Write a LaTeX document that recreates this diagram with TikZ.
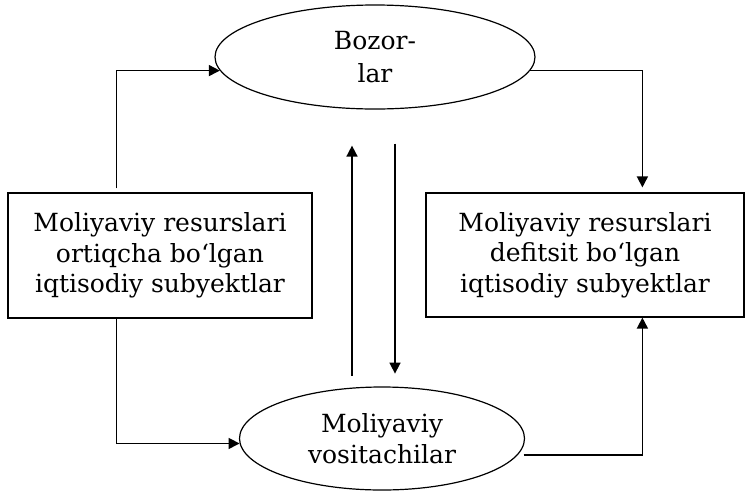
\documentclass[tikz,border=0pt]{standalone}
\usepackage{fontspec}
\setmainfont{DejaVu Serif}
\usetikzlibrary{shapes.geometric,arrows.meta}
\begin{document}
\begin{tikzpicture}[x=1pt,y=1pt,
  txt/.style={font=\fontsize{25}{30.5}\selectfont, align=center, text=black},
  oval/.style={ellipse, draw, line width=1.2pt, inner sep=0pt, txt},
  box/.style={rectangle, draw, line width=1.2pt, inner sep=0pt, txt},
  arr/.style={line width=1.6pt, -{Triangle[length=11pt,width=11pt]}}]
\useasboundingbox (0,0) rectangle (745,-491);

% nodes
\node[oval, minimum width=320, minimum height=104,
      font=\fontsize{25}{33}\selectfont] (top) at (375,-57) {Bozor-\\lar};
\node[oval, minimum width=285, minimum height=103] (bot) at (382,-438.5) {Moliyaviy\\vositachilar};
\node[box, minimum width=304, minimum height=125] (lbox) at (160,-255.5)
  {Moliyaviy resurslari\\ortiqcha bo‘lgan\\iqtisodiy subyektlar};
\node[box, minimum width=318, minimum height=124] (rbox) at (585,-255)
  {Moliyaviy resurslari\\defitsit bo‘lgan\\iqtisodiy subyektlar};

% flows around the outside
\draw[arr, shorten <=4pt] ([xshift=109pt]lbox.north west) |- (top.185);
\draw[arr, shorten >=5pt] (top.-5) -| ([xshift=217pt]rbox.north west);
\draw[arr] ([xshift=109pt]lbox.south west) |- (bot.182);
\draw[arr, shorten <=6pt] (bot.-7) -| ([xshift=217pt]rbox.south west);

% flows between the two ovals
\draw[arr] ([xshift=-23pt,yshift=-266pt]top.south) -- ([xshift=-23pt,yshift=-36pt]top.south);
\draw[arr] ([xshift=20pt,yshift=-34pt]top.south) -- ([xshift=20pt,yshift=-264pt]top.south);
\end{tikzpicture}
\end{document}
